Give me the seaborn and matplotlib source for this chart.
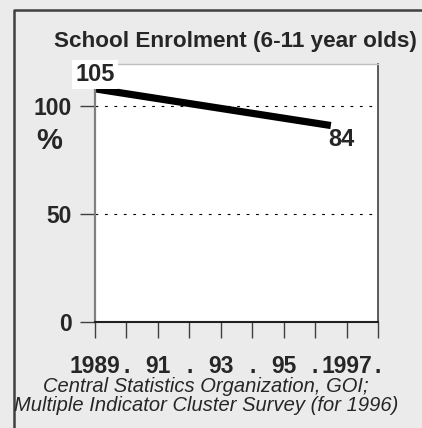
import numpy as np
import pandas as pd
import seaborn as sns
import matplotlib.pyplot as plt
from matplotlib.lines import Line2D

# values
years = [1989, 1996.5]
enrolment = [108, 91]
point_labels = ["105", "84"]
tick_years = list(range(1989, 1999))
tick_labels = ["1989", ".", "91", ".", "93", ".", "95", ".", "1997", "."]
ytick_vals = [0, 50, 100]
title = "School Enrolment (6-11 year olds)"
source = "Central Statistics Organization, GOI;\nMultiple Indicator Cluster Survey (for 1996)"

sns.set_style("white")
plt.rcParams['font.family'] = ['Liberation Sans', 'DejaVu Sans']

bg = "#ebebeb"
fig = plt.figure(figsize=(4.22, 4.28), dpi=100, facecolor=bg)
ax = fig.add_axes([95/422, 1-322/428, 283/422, 258/428])
ax.set_facecolor("white")

df = pd.DataFrame({"year": years, "enrol": enrolment})
sns.lineplot(data=df, x="year", y="enrol", ax=ax, color="black", linewidth=5.2,
             solid_capstyle="butt")

ax.set_xlim(1989, 1998)
ax.set_ylim(0, 119.5)
ax.set_xticks(tick_years)
ax.set_xticklabels(tick_labels, fontsize=16.5, fontweight="bold")
ax.set_yticks(ytick_vals)
ax.set_yticklabels([str(v) for v in ytick_vals], fontsize=16.5, fontweight="bold")
ax.tick_params(axis="x", direction="out", length=11.5, width=1, color="#404040", pad=12, bottom=True)
ax.tick_params(axis="y", direction="out", length=11, width=1, color="#404040", pad=6, left=True)
for v in ytick_vals[1:]:
    ax.axhline(v, color="black", linestyle=(0, (2.5, 6)), linewidth=0.8, zorder=0)

ax.set_xlabel("")
ax.set_ylabel("%", fontsize=21, fontweight="bold", rotation=0, va="center", ha="center")
ax.yaxis.set_label_coords(-0.1625, 0.70)

for s in ["left", "right", "top", "bottom"]:
    ax.spines[s].set_visible(True)
ax.spines["left"].set_color("#808080")
ax.spines["left"].set_linewidth(1.6)
ax.spines["right"].set_color("#404040")
ax.spines["right"].set_linewidth(1.2)
ax.spines["top"].set_color("#c0c0c0")
ax.spines["top"].set_linewidth(1)
ax.spines["bottom"].set_color("#202020")
ax.spines["bottom"].set_linewidth(1.5)

ax.annotate(point_labels[0], (years[0], enrolment[0]), xytext=(0, 2), textcoords="offset points",
            ha="center", va="bottom", fontsize=17, fontweight="bold", annotation_clip=False,
            bbox=dict(boxstyle="square,pad=0.12", fc="white", ec="none"))
ax.annotate(point_labels[1], (years[1], enrolment[1]), xytext=(-2, -2), textcoords="offset points",
            ha="left", va="top", fontsize=17, fontweight="bold", annotation_clip=False)

fig.text(235/422, 1-47/428, title, ha="center", va="baseline", fontsize=16.2, fontweight="bold")
fig.text(206/422, 1-396/428, source, ha="center", va="center", fontsize=14.5,
         style="italic", linespacing=0.95)

# outer frame (top and left)
fig.add_artist(Line2D([14/422, 14/422, 1.01], [-0.01, 1-10/428, 1-10/428], transform=fig.transFigure,
                      color="#404040", linewidth=1.8))

fig.savefig("out.png", dpi=100, facecolor=bg)
